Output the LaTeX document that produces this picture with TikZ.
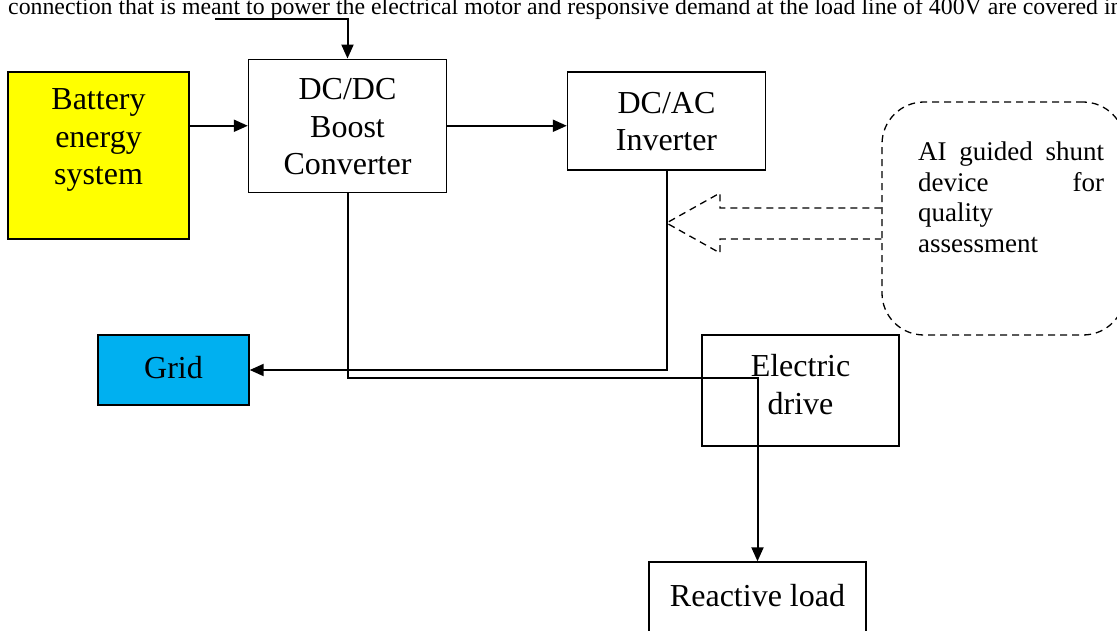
\documentclass[tikz,border=0pt]{standalone}
\usepackage{fontspec}
\setmainfont{Liberation Serif}
\usetikzlibrary{arrows.meta}
\definecolor{batyellow}{HTML}{FFFF00}
\definecolor{gridblue}{HTML}{00B0F0}
\tikzset{
  blk/.style={draw=black, line width=1.4pt, rectangle, inner sep=0pt},
  btxt/.style={align=center, inner sep=0pt, font=\fontsize{32}{37.5}\selectfont},
  conn/.style={line width=2pt, -{Triangle[length=14pt,width=12pt]}},
  dsh/.style={line width=1.3pt, dash pattern=on 7pt off 5pt},
}
\begin{document}
\begin{tikzpicture}[x=1pt,y=-1pt]
\useasboundingbox (0,0) rectangle (1117,630);
\clip (0,0) rectangle (1117,630);
% cut-off line of text above the figure
\node[anchor=base west, inner sep=0pt, font=\fontsize{23.8}{28}\selectfont] (cap) at (8,14)
  {connection that is meant to power the electrical motor and responsive demand at the load line of 400V are covered in};
% blocks
\node[blk, fill=batyellow, minimum width=181pt, minimum height=167pt,
  label={[btxt, yshift=15.5pt]center:Battery\\energy\\system}] (bat) at (98.5,155.5) {};
\node[blk, minimum width=198pt, minimum height=133pt,
  label={[btxt, yshift=-1pt]center:DC/DC\\Boost\\Converter}] (dcdc) at (347.5,125.75) {};
\node[blk, minimum width=198pt, minimum height=98pt,
  label={[btxt, yshift=-0.5pt]center:DC/AC\\Inverter}] (dcac) at (666.5,121) {};
\node[blk, fill=gridblue, minimum width=151pt, minimum height=70pt,
  label={[btxt, yshift=2pt]center:Grid}] (grid) at (173.5,370) {};
\node[blk, minimum width=197pt, minimum height=111pt,
  label={[btxt, yshift=6pt]center:Electric\\drive}] (drive) at (800.5,390.5) {};
\node[blk, minimum width=217pt, minimum height=76pt,
  label={[btxt, yshift=4pt]center:Reactive load}] (load) at (757.5,600) {};
% AI guided shunt device (dashed rounded box)
\node[dsh, draw, rounded corners=42pt, minimum width=243pt, minimum height=233pt] (ai) at (1003.5,218.5) {};
\node[anchor=north west, inner sep=0pt, align=left, font=\fontsize{27}{30.5}\selectfont] (aitext) at (918,142)
  {\makebox[186pt][s]{AI guided shunt}\\\makebox[186pt][s]{device for}\\quality\\assessment};
% hollow dashed arrow from the AI box to the inverter line
\draw[dsh] (ai.west |- 0,208) -- (720,208) -- (720,193) -- (666.5,223) -- (720,253) -- (720,239) -- (ai.west |- 0,239);
% connectors
\coordinate (src) at (215,19);
\coordinate (j) at (757.5,378);
\draw[conn] (src) -| (dcdc.north);
\draw[conn] (bat.east |- dcdc.west) -- (dcdc.west);
\draw[conn] (dcdc.east) -- (dcdc.east -| dcac.west);
\draw[conn] (dcac.south) |- (grid.east);
\draw[conn] (dcdc.south) |- (j) -- (load.north);
\end{tikzpicture}
\end{document}
